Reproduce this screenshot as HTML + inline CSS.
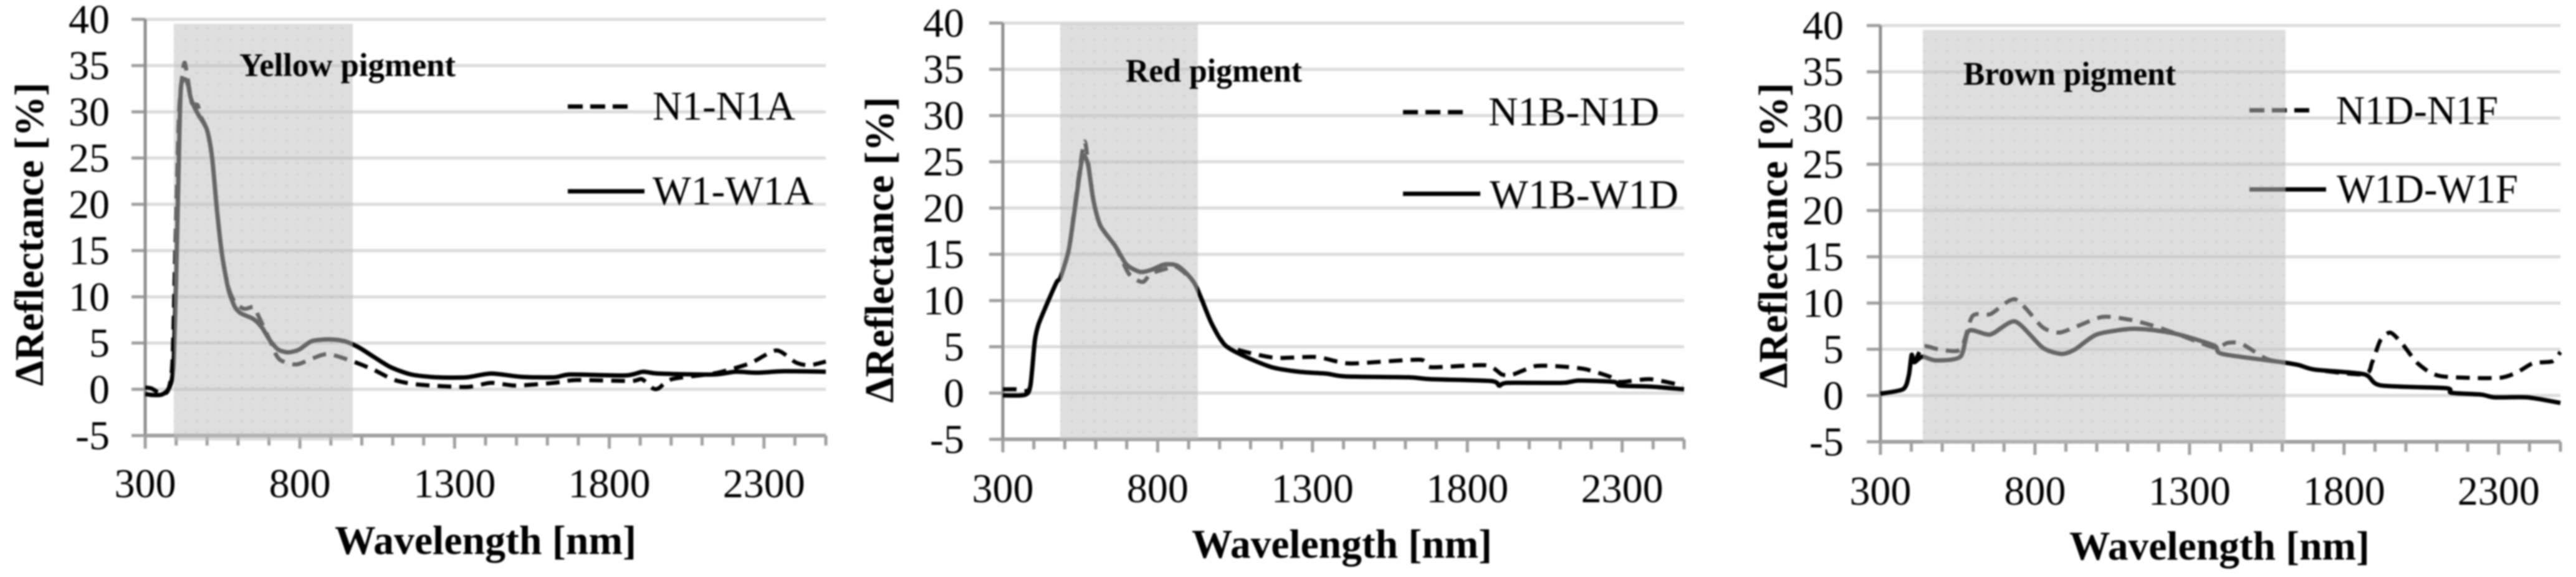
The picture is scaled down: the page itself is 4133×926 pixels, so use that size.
<!DOCTYPE html>
<html lang="en">
<head>
<meta charset="utf-8">
<title>Reflectance difference spectra of pigments</title>
<style>
html,body{margin:0;padding:0;background:#fff;width:4133px;height:926px;overflow:hidden}
svg{display:block;filter:blur(1.2px)}
text{font-family:"Liberation Serif",serif;fill:#000}
.tick{font-size:66px}
.legend{font-size:66px}
.title{font-size:66px;font-weight:bold}
.pig{font-size:53px;font-weight:bold}
</style>
</head>
<body>
<svg xmlns="http://www.w3.org/2000/svg" width="4133" height="926" viewBox="0 0 4133 926">
  <defs>
    <pattern id="dots" width="18" height="18" patternUnits="userSpaceOnUse">
      <rect x="8" y="8" width="3" height="3" fill="#000" opacity="0.07"/>
    </pattern>
  </defs>

  <g id="p0">
    <g id="p0-under"></g>
    <text class="title" x="69" y="376" text-anchor="middle" textLength="487" lengthAdjust="spacingAndGlyphs" transform="rotate(-90 69 376)">ΔReflectance [%]</text>
    <text class="title" x="779" y="889" text-anchor="middle" textLength="484" lengthAdjust="spacingAndGlyphs">Wavelength [nm]</text>
    <text class="pig" x="384" y="122" textLength="347" lengthAdjust="spacingAndGlyphs">Yellow pigment</text>
    <text class="legend" x="1047" y="192" textLength="229" lengthAdjust="spacingAndGlyphs">N1-N1A</text>
    <text class="legend" x="1047" y="328" textLength="258" lengthAdjust="spacingAndGlyphs">W1-W1A</text>
  </g>

  <g id="p1">
    <g id="p1-under"></g>
    <text class="title" x="1433" y="401" text-anchor="middle" textLength="491" lengthAdjust="spacingAndGlyphs" transform="rotate(-90 1433 401)">ΔReflectance [%]</text>
    <text class="title" x="2153" y="895" text-anchor="middle" textLength="482" lengthAdjust="spacingAndGlyphs">Wavelength [nm]</text>
    <text class="pig" x="1806" y="131" textLength="283" lengthAdjust="spacingAndGlyphs">Red pigment</text>
    <text class="legend" x="2388" y="201" textLength="274" lengthAdjust="spacingAndGlyphs">N1B-N1D</text>
    <text class="legend" x="2390" y="334" textLength="303" lengthAdjust="spacingAndGlyphs">W1B-W1D</text>
  </g>

  <g id="p2">
    <g id="p2-under"></g>
    <text class="title" x="2867" y="378" text-anchor="middle" textLength="490" lengthAdjust="spacingAndGlyphs" transform="rotate(-90 2867 378)">ΔReflectance [%]</text>
    <text class="title" x="3561" y="898" text-anchor="middle" textLength="482" lengthAdjust="spacingAndGlyphs">Wavelength [nm]</text>
    <text class="pig" x="3150" y="136" textLength="341" lengthAdjust="spacingAndGlyphs">Brown pigment</text>
    <text class="legend" x="3748" y="199" textLength="260" lengthAdjust="spacingAndGlyphs">N1D-N1F</text>
    <text class="legend" x="3749" y="325" textLength="291" lengthAdjust="spacingAndGlyphs">W1D-W1F</text>
  </g>
</svg>

<script>
// ---- tick labels ----
var xTickLabels = [300, 800, 1300, 1800, 2300];
var yTickLabels = [-5, 0, 5, 10, 15, 20, 25, 30, 35, 40];

// ---- yellow pigment ----
var w1Wavelengths = [300,320,350,367,378,385,392,400,408,415,428,438,448,468,499,516,532,549,569,590,610,650,677,703,730,763,798,838,895,945,992,1039,1093,1160,1241,1338,1418,1515,1622,1675,1852,1909,1959,2136,2207,2278,2367,2500];
var w1Values = [-0.5,-0.6,-0.6,-0.3,0.2,0.9,3,12,24,32.5,33.5,33,31.4,29.9,28.1,25.1,19.3,14.4,10.8,8.9,8.2,7.6,6.7,5.3,4.3,4,4.3,5.2,5.4,5.2,4.5,3.5,2.4,1.6,1.3,1.3,1.7,1.35,1.3,1.6,1.5,1.9,1.7,1.6,1.9,1.8,1.95,1.9];
var n1Wavelengths = [300,320,340,360,375,388,398,409,420,428,440,450,460,470,480,499,516,532,549,569,590,620,650,665,703,722,740,791,885,972,1039,1106,1187,1338,1418,1498,1622,1693,1870,1905,1941,1959,2003,2136,2207,2261,2341,2403,2447,2500];
var n1Values = [0.2,0.1,-0.3,-0.5,0,3,16,29.7,34,35.3,33,31,30.8,30.7,29.5,28.1,25.1,19.3,14.4,11,9.4,8.7,8.9,8,5.3,3.8,3.1,2.7,3.8,3,2.1,1,0.5,0.25,0.7,0.4,0.7,1,0.9,1.1,0.1,0.1,1.1,1.7,2.3,2.9,4.2,2.9,2.6,3];

// ---- red pigment ----
var w1bWavelengths = [300,371,389,403,415,442,474,486,513,534,557,575,592,615,663,699,743,778,823,867,920,973,1017,1079,1168,1257,1345,1407,1611,1682,1877,1903,1930,2107,2160,2275,2293,2389,2500];
var w1bValues = [-0.25,-0.2,0.8,5.6,7.4,9.6,12,12.5,15.5,20.3,25.5,24.7,20.9,18.1,15.9,13.9,13.1,13.3,13.9,13.7,11.8,7.6,5.2,4,2.8,2.3,2.1,1.8,1.7,1.5,1.3,0.8,1.1,1.1,1.35,1.2,0.8,0.7,0.4];
var n1bWavelengths = [300,344,371,389,403,415,442,474,486,513,534,562,575,592,615,663,707,751,778,823,858,920,973,1017,1044,1115,1186,1310,1381,1434,1646,1682,1859,1912,1947,2018,2089,2178,2258,2293,2390,2496];
var n1bValues = [0.4,0.4,0.2,0.8,5.6,7.4,9.6,12,12.5,15.5,20.6,27.1,25,20.9,18.1,15.9,12.9,12,12.9,13.4,13.7,11.8,7.6,5.2,4.8,4.2,3.8,3.9,3.4,3.2,3.6,2.8,3,2,2,2.9,2.9,2.6,1.8,1.2,1.5,0.8];

// ---- brown pigment ----
var w1dWavelengths = [300,374,392,401,409,436,480,559,586,656,736,824,886,930,1000,1106,1177,1265,1380,1406,1600,1653,1706,1865,1918,2130,2147,2244,2288,2394,2500];
var w1dValues = [0.2,0.7,2.2,4.4,3.6,4.2,3.8,4.2,7,6.6,8,5.2,4.5,5,6.6,7.2,7.1,6.6,5.4,4.5,3.6,3.3,2.8,2.3,1.1,0.8,0.3,0.1,-0.2,-0.2,-0.8];
var n1dWavelengths = [300,374,392,401,409,439,489,559,598,656,736,824,877,930,1018,1106,1177,1265,1380,1424,1468,1547,1600,1653,1706,1865,1891,1918,1950,1988,2041,2112,2297,2359,2412,2474,2500];
var n1dValues = [0.2,0.7,2.2,4.4,3.6,5.3,5,5,8.6,8.8,10.4,7.4,6.8,7.4,8.5,8.2,7.6,6.6,5.2,5.7,5.6,4,3.6,3.3,2.8,2.3,3.6,6,6.8,5.6,3.4,2.1,1.9,2.5,3.5,3.7,4.7];

// ---- layout of each panel (positions only, no data) ----
var panels = [
  {id:'p0', left:233,  right:1325, top:31, bottom:699, shade:[279,566,38,707], labelRight:176, xBase:798,
   dash:[911,1012,171], solid:[911,1034,307],
   dashedX:n1Wavelengths, dashedY:n1Values, solidX:w1Wavelengths, solidY:w1Values},
  {id:'p1', left:1609, right:2702, top:37, bottom:705, shade:[1701,1922,38,705], labelRight:1547, xBase:806,
   dash:[2251,2354,180], solid:[2251,2375,311],
   dashedX:n1bWavelengths, dashedY:n1bValues, solidX:w1bWavelengths, solidY:w1bValues},
  {id:'p2', left:3017, right:4108, top:41, bottom:709, shade:[3085,3667,48,712], labelRight:2958, xBase:810,
   dash:[3609,3710,177], solid:[3609,3732,304],
   dashedX:n1dWavelengths, dashedY:n1dValues, solidX:w1dWavelengths, solidY:w1dValues}
];

var NS = 'http://www.w3.org/2000/svg';
var X_MIN = 300, X_MAX = 2500, Y_MIN = -5, Y_MAX = 40;

function make(parent, tag, attrs) {
  var el = document.createElementNS(NS, tag);
  for (var k in attrs) el.setAttribute(k, attrs[k]);
  parent.appendChild(el);
  return el;
}

function curvePath(xs, ys, sx, sy) {
  var pts = xs.map(function (x, i) { return [sx(x), sy(ys[i])]; });
  var d = 'M' + pts[0][0].toFixed(1) + ' ' + pts[0][1].toFixed(1);
  for (var i = 0; i < pts.length - 1; i++) {
    var p0 = pts[Math.max(i - 1, 0)], p1 = pts[i], p2 = pts[i + 1], p3 = pts[Math.min(i + 2, pts.length - 1)];
    var c1x = p1[0] + (p2[0] - p0[0]) / 8, c1y = p1[1] + (p2[1] - p0[1]) / 8;
    var c2x = p2[0] - (p3[0] - p1[0]) / 8, c2y = p2[1] - (p3[1] - p1[1]) / 8;
    d += 'C' + c1x.toFixed(1) + ' ' + c1y.toFixed(1) + ' ' + c2x.toFixed(1) + ' ' + c2y.toFixed(1) + ' ' + p2[0].toFixed(1) + ' ' + p2[1].toFixed(1);
  }
  return d;
}

panels.forEach(function (p) {
  var g = document.getElementById(p.id + '-under');
  var sx = function (v) { return p.left + (v - X_MIN) / (X_MAX - X_MIN) * (p.right - p.left); };
  var sy = function (v) { return p.bottom - (v - Y_MIN) / (Y_MAX - Y_MIN) * (p.bottom - p.top); };

  // gridlines, y ticks and y labels
  yTickLabels.forEach(function (v) {
    var y = sy(v);
    if (v !== Y_MIN) {
      var grid = make(g, 'line', {x1: p.left, x2: p.right, y1: y, y2: y, stroke: '#dcdcdc', 'stroke-width': 5});
      
      
    }
    var tick = make(g, 'line', {x1: p.left - 22, x2: p.left, y1: y, y2: y, stroke: '#a0a0a0', 'stroke-width': 5});
    
    
    var lab = make(g, 'text', {x: p.labelRight, y: y + 22, 'text-anchor': 'end', 'class': 'tick'});
    
    
    lab.textContent = v;
  });

  // axes
  var yAxis = make(g, 'line', {x1: p.left, x2: p.left, y1: p.top, y2: p.bottom + 21, stroke: '#909090', 'stroke-width': 5});
  
  
  var xAxis = make(g, 'line', {x1: p.left, x2: p.right, y1: p.bottom, y2: p.bottom, stroke: '#a0a0a0', 'stroke-width': 6});
  
  

  // x ticks every 100 nm, longer at labelled positions
  for (var w = X_MIN; w <= X_MAX; w += 100) {
    var major = xTickLabels.indexOf(w) >= 0;
    var t = make(g, 'line', {x1: sx(w), x2: sx(w), y1: p.bottom, y2: p.bottom + (major ? 21 : 16), stroke: '#a0a0a0', 'stroke-width': 5});
    
    
  }
  xTickLabels.forEach(function (v) {
    var lab = make(g, 'text', {x: sx(v), y: p.xBase, 'text-anchor': 'middle', 'class': 'tick'});
    
    
    lab.textContent = v;
  });

  // series
  var dashed = make(g, 'path', {d: curvePath(p.dashedX, p.dashedY, sx, sy), fill: 'none', stroke: '#000', 'stroke-width': 6.5, 'stroke-dasharray': '22 13', 'stroke-linejoin': 'round'});
  
  
  var solid = make(g, 'path', {d: curvePath(p.solidX, p.solidY, sx, sy), fill: 'none', stroke: '#000', 'stroke-width': 7, 'stroke-linejoin': 'round'});
  
  

  // legend keys
  var keyD = make(g, 'line', {x1: p.dash[0], x2: p.dash[1], y1: p.dash[2], y2: p.dash[2], stroke: '#000', 'stroke-width': 7, 'stroke-dasharray': '24 12'});
  
  
  var keyS = make(g, 'line', {x1: p.solid[0], x2: p.solid[1], y1: p.solid[2], y2: p.solid[2], stroke: '#000', 'stroke-width': 7});
  
  

  // translucent highlighted band above the lines
  var s = p.shade;
  var band = make(g, 'rect', {x: s[0], y: s[2], width: s[1] - s[0], height: s[3] - s[2], fill: 'rgb(192,192,192)', opacity: 0.53});
  
  
  var dots = make(g, 'rect', {x: s[0], y: s[2], width: s[1] - s[0], height: s[3] - s[2], fill: 'url(#dots)'});
  
  
});
</script>
</body>
</html>
